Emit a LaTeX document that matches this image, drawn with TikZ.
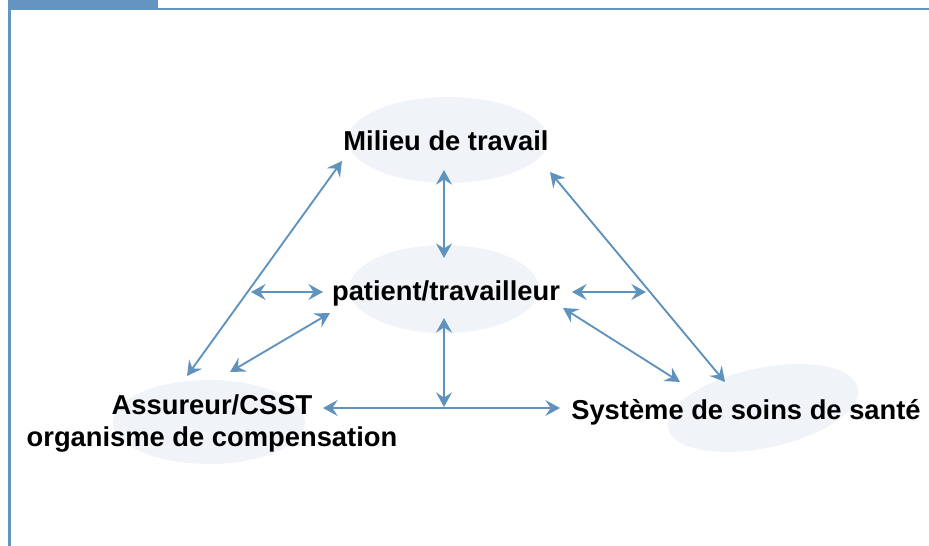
\documentclass[tikz,border=0pt]{standalone}
\usepackage{fontspec}
\setmainfont{Liberation Sans}
\usetikzlibrary{arrows.meta,shapes.geometric}
\definecolor{cadre}{RGB}{99,149,192}
\definecolor{fleche}{RGB}{96,146,190}
\definecolor{bulle}{RGB}{240,244,248}

\begin{document}
\begin{tikzpicture}[x=0.75pt, y=-0.75pt,
    bulle/.style={ellipse, fill=bulle, inner sep=0pt},
    lbl/.style={font=\fontsize{20.5}{24}\selectfont\bfseries, text=black, inner sep=0pt, align=center, anchor=base},
    lien/.style={{Stealth[length=11pt,width=12pt,inset=4pt]}-{Stealth[length=11pt,width=12pt,inset=4pt]}, line width=1.4pt, color=fleche}]
        \useasboundingbox (0,0) rectangle (929,546);
        %% Cadre
        \fill[cadre] (8,0) rectangle (158,9);
        \draw[cadre, line width=2pt] (9.5,546) -- (9.5,9) -- (929,9);

        %% Bulles
        \node[bulle, minimum width=150pt, minimum height=64.5pt] (bMilieu) at (448,140) {};
        \node[bulle, minimum width=142.5pt, minimum height=66pt] (bPatient) at (444,289) {};
        \node[bulle, minimum width=144pt, minimum height=63pt] (bAssureur) at (209,422) {};
        \node[bulle, minimum width=145.5pt, minimum height=60pt, rotate=12] (bSysteme) at (763,408) {};

        %% Textes
        \node[lbl] (milieu) at (446,150.5) {Milieu de travail};
        \node[lbl] (patient) at (446,300.5) {patient/travailleur};
        \node[lbl] (assureur) at (212,446) {Assureur/CSST\\organisme de compensation};
        \node[lbl] (systeme) at (746,419.5) {Système de soins de santé};

        %% Extremites des fleches
        \coordinate (g1) at (342,161);  \coordinate (g2) at (187,376);
        \coordinate (g3) at (251,292);  \coordinate (g4) at (323,292);
        \coordinate (g5) at (230,372);  \coordinate (g6) at (330,313);
        \coordinate (m1) at (444,170);  \coordinate (m2) at (444,258);
        \coordinate (m3) at (444,318);  \coordinate (m4) at (444,407);
        \coordinate (b1) at (323,408);  \coordinate (b2) at (560,408);
        \coordinate (d1) at (572,292);  \coordinate (d2) at (646,292);
        \coordinate (d3) at (563,308);  \coordinate (d4) at (680,382);
        \coordinate (d5) at (550,172);  \coordinate (d6) at (725,382);

        %% Fleches
        \draw[lien] (g1) -- (g2);
        \draw[lien] (g3) -- (g4);
        \draw[lien] (g5) -- (g6);
        \draw[lien] (m1) -- (m2);
        \draw[lien] (m3) -- (m4);
        \draw[lien] (b1) -- (b2);
        \draw[lien] (d1) -- (d2);
        \draw[lien] (d3) -- (d4);
        \draw[lien] (d5) -- (d6);
\end{tikzpicture}
\end{document}
